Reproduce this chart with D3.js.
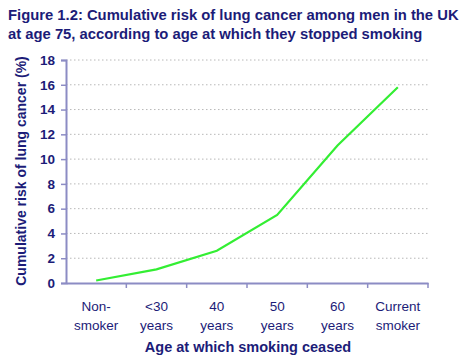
<!DOCTYPE html>
<html>
<head>
<meta charset="utf-8">
<script src="https://cdn.jsdelivr.net/npm/d3@7"></script>
<style>
  body { margin: 0; background: #fff; }
  text { font-family: "Liberation Sans", Arial, sans-serif; fill: #1c1c78; }
</style>
</head>
<body>
<div id="chart"></div>
<script>
// data
var categories = ["Non-|smoker", "<30|years", "40|years", "50|years", "60|years", "Current|smoker"];
var risk = [0.2, 1.1, 2.6, 5.5, 11.1, 15.8];
var yTicks = [0, 2, 4, 6, 8, 10, 12, 14, 16, 18];

var W = 470, H = 362;
var m = {top: 60, right: 42, bottom: 79, left: 66};
var w = W - m.left - m.right;
var h = H - m.top - m.bottom;

var svg = d3.select("#chart").append("svg")
  .attr("width", W).attr("height", H);

// title
var title = svg.append("text")
  .attr("x", 8).attr("y", 20)
  .style("font-size", "14.8px").style("font-weight", "bold");
title.append("tspan").attr("x", 8).attr("dy", 0)
  .text("Figure 1.2: Cumulative risk of lung cancer among men in the UK");
title.append("tspan").attr("x", 8).attr("dy", 19)
  .text("at age 75, according to age at which they stopped smoking");

var g = svg.append("g").attr("transform", "translate(" + m.left + "," + m.top + ")");

var x = d3.scaleBand().domain(categories).range([0, w]);
var y = d3.scaleLinear().domain([0, 18]).range([h, 0]);

// gridlines
g.append("g").selectAll("line")
  .data(yTicks.slice(1))
  .enter().append("line")
  .attr("x1", 0).attr("x2", w)
  .attr("y1", function(d) { return y(d); })
  .attr("y2", function(d) { return y(d); })
  .attr("stroke", "#b8b8b8")
  .attr("stroke-dasharray", "1.5,2.5");

// y axis
var yAxis = g.append("g")
  .call(d3.axisLeft(y).tickValues(yTicks).tickSize(5).tickPadding(6));
yAxis.select(".domain").attr("stroke", "#8c8cc4").attr("stroke-width", 2);
yAxis.selectAll(".tick line").attr("stroke", "#8c8cc4").attr("stroke-width", 1.5);
yAxis.selectAll("text")
  .style("font-size", "13.5px").style("font-weight", "bold").attr("fill", "#1c1c78");

// x axis
var xAxis = g.append("g")
  .attr("transform", "translate(0," + h + ")")
  .call(d3.axisBottom(x).tickSize(0).tickFormat(""));
xAxis.select(".domain").attr("stroke", "#8c8cc4").attr("stroke-width", 2);

// x tick marks at band boundaries
xAxis.selectAll(".sep")
  .data(categories.slice(1).concat(["end"]))
  .enter().append("line")
  .attr("class", "sep")
  .attr("x1", function(d, i) { return x.step() * (i + 1); })
  .attr("x2", function(d, i) { return x.step() * (i + 1); })
  .attr("y1", 0).attr("y2", 5)
  .attr("stroke", "#8c8cc4").attr("stroke-width", 1.5);

// x labels (two lines)
var xl = xAxis.selectAll(".xl")
  .data(categories)
  .enter().append("text")
  .attr("class", "xl")
  .attr("text-anchor", "middle")
  .attr("x", function(d) { return x(d) + x.bandwidth() / 2; })
  .attr("y", 28)
  .style("font-size", "13.5px");
xl.append("tspan")
  .attr("x", function(d) { return x(d) + x.bandwidth() / 2; })
  .attr("dy", 0)
  .text(function(d) { return d.split("|")[0]; });
xl.append("tspan")
  .attr("x", function(d) { return x(d) + x.bandwidth() / 2; })
  .attr("dy", 18.5)
  .text(function(d) { return d.split("|")[1]; });

// axis titles
svg.append("text")
  .attr("text-anchor", "middle")
  .attr("x", m.left + w / 2 + 1).attr("y", 352)
  .style("font-size", "14.5px").style("font-weight", "bold")
  .text("Age at which smoking ceased");

svg.append("text")
  .attr("text-anchor", "middle")
  .attr("transform", "translate(26,171) rotate(-90)")
  .style("font-size", "14px").style("font-weight", "bold")
  .text("Cumulative risk of lung cancer (%)");

// line
var line = d3.line()
  .x(function(d, i) { return x(categories[i]) + x.bandwidth() / 2; })
  .y(function(d) { return y(d); });

g.append("path")
  .datum(risk)
  .attr("d", line)
  .attr("fill", "none")
  .attr("stroke", "#33ee33")
  .attr("stroke-width", 2.2);
</script>
</body>
</html>
